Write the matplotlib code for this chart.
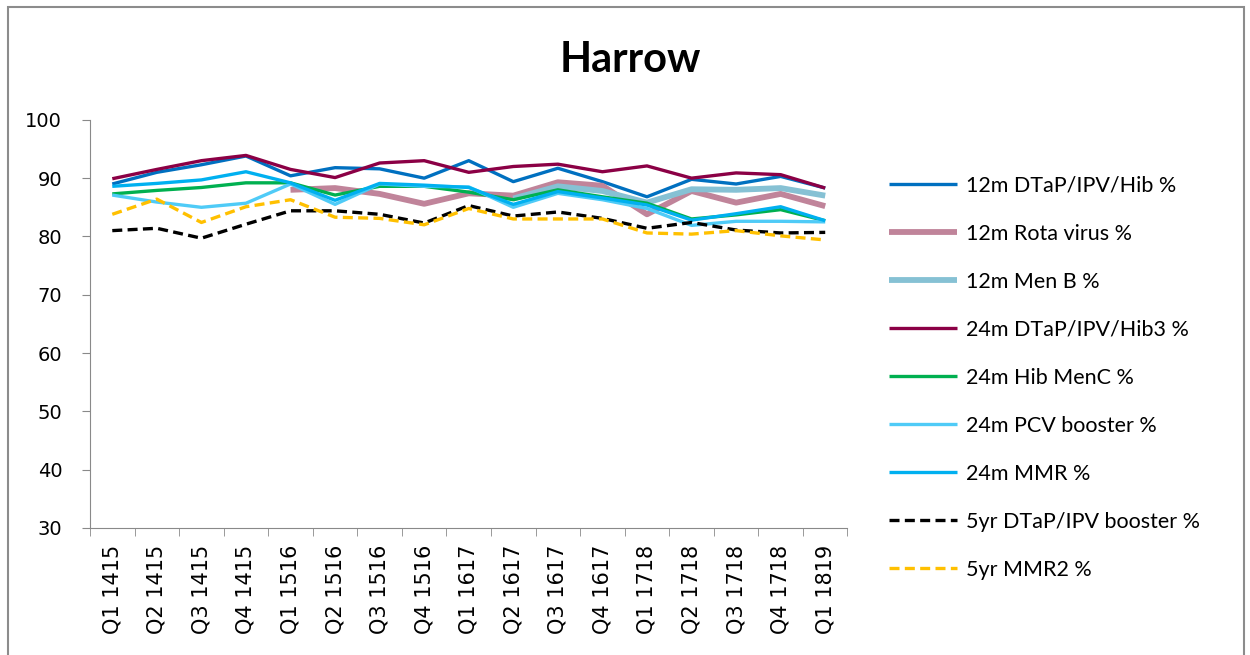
import matplotlib
matplotlib.use("Agg")
import matplotlib.pyplot as plt
from matplotlib.patches import Rectangle
import numpy as np

plt.rcParams['font.family'] = ['Lato', 'DejaVu Sans']

quarters = ['Q1 1415', 'Q2 1415', 'Q3 1415', 'Q4 1415',
            'Q1 1516', 'Q2 1516', 'Q3 1516', 'Q4 1516',
            'Q1 1617', 'Q2 1617', 'Q3 1617', 'Q4 1617',
            'Q1 1718', 'Q2 1718', 'Q3 1718', 'Q4 1718', 'Q1 1819']
yticks = [30, 40, 50, 60, 70, 80, 90, 100]

nan = np.nan
dtap12 = [89.0, 91.0, 92.3, 93.8, 90.4, 91.8, 91.6, 90.0, 93.0, 89.4,
          91.7, 89.4, 86.8, 89.8, 89.0, 90.3, 88.3]
rota12 = [nan, nan, nan, nan, 88.0, 88.3, 87.3, 85.6, 87.4, 87.0,
          89.3, 88.7, 83.8, 87.8, 85.8, 87.3, 85.2]
menb12 = [nan, nan, nan, nan, nan, nan, nan, nan, nan, 86.5,
          88.6, 87.8, 85.8, 88.1, 88.0, 88.3, 87.0]
dtap24 = [89.9, 91.5, 93.0, 93.9, 91.5, 90.1, 92.6, 93.0, 91.0, 92.0,
          92.4, 91.1, 92.1, 90.0, 90.9, 90.6, 88.3]
hibmenc24 = [87.3, 87.9, 88.4, 89.2, 89.2, 87.1, 88.6, 88.6, 87.6, 86.3,
             88.0, 86.8, 85.7, 83.0, 83.7, 84.6, 82.7]
pcv24 = [87.1, 85.9, 85.0, 85.7, 89.0, 85.5, 89.0, 88.6, 88.5, 85.0,
         87.4, 86.3, 84.8, 81.9, 82.6, 82.6, 82.5]
mmr24 = [88.6, 89.1, 89.7, 91.1, 89.2, 86.2, 89.1, 88.8, 88.4, 85.5,
         87.7, 86.6, 85.4, 82.8, 83.9, 85.1, 82.7]
dtapb5 = [81.0, 81.4, 79.7, 82.1, 84.4, 84.4, 83.8, 82.3, 85.3, 83.5,
          84.2, 83.1, 81.4, 82.4, 81.1, 80.6, 80.7]
mmr2_5 = [83.8, 86.4, 82.4, 85.1, 86.3, 83.3, 83.1, 82.0, 84.8, 83.0,
          83.0, 83.0, 80.6, 80.4, 81.0, 80.1, 79.4]

series = [
    ('12m DTaP/IPV/Hib %', dtap12, '#0070C0', 2.4, '-'),
    ('12m Rota virus %', rota12, '#C0849A', 4.2, '-'),
    ('12m Men B %', menb12, '#86C1D4', 4.2, '-'),
    ('24m DTaP/IPV/Hib3 %', dtap24, '#8B0045', 2.4, '-'),
    ('24m Hib MenC %', hibmenc24, '#00B050', 2.4, '-'),
    ('24m PCV booster %', pcv24, '#4FCBF7', 2.4, '-'),
    ('24m MMR %', mmr24, '#00B0F0', 2.4, '-'),
    ('5yr DTaP/IPV booster %', dtapb5, '#000000', 2.4, (0, (3, 1.6))),
    ('5yr MMR2 %', mmr2_5, '#FFC000', 2.4, (0, (3, 1.6))),
]

fig = plt.figure(figsize=(12.5, 6.55), dpi=100)
ax = fig.add_axes([0.072, 0.194, 0.606, 0.623])

x = np.arange(len(quarters))
for label, vals, color, lw, ls in series:
    ax.plot(x, vals, color=color, lw=lw, ls=ls, label=label,
            solid_capstyle='butt', dash_capstyle='butt')

ax.set_xlim(-0.5, len(quarters) - 0.5)
ax.set_ylim(30, 100)
ax.set_yticks(yticks)
ax.set_yticklabels([str(v) for v in yticks], fontsize=14, family='DejaVu Sans')
ax.set_xticks(x)
ax.set_xticklabels(quarters, rotation=90, fontsize=15, family='DejaVu Sans')
ax.set_xticks(np.arange(-0.5, len(quarters), 1), minor=True)
ax.tick_params(axis='x', which='major', length=0, pad=12)
ax.tick_params(axis='x', which='minor', length=6, color='#898989')
ax.tick_params(axis='y', length=6, color='#898989', pad=14)
for side in ['top', 'right']:
    ax.spines[side].set_visible(False)
for side in ['left', 'bottom']:
    ax.spines[side].set_color('#898989')

fig.text(0.504, 0.908, 'Harrow', ha='center', va='center',
         fontsize=30, fontweight='bold')

fig.legend(loc='upper left', bbox_to_anchor=(0.696, 0.761), frameon=False,
           fontsize=15.5, handlelength=3.15, handletextpad=0.4,
           labelspacing=1.3)

fig.patches.append(Rectangle((8 / 1250, -0.05), 1236 / 1250, 1.05 - 7 / 655,
                             transform=fig.transFigure, fill=False,
                             edgecolor='#8c8c8c', lw=1.5))

fig.savefig('out.png', dpi=100)
